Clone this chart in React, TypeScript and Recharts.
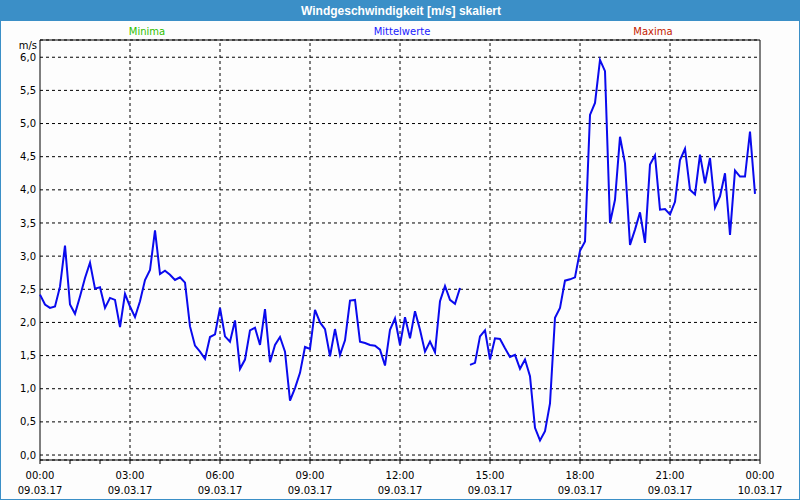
import React from "react";
import { LineChart, Line, XAxis, YAxis, CartesianGrid, ReferenceLine, ReferenceArea } from "recharts";

// 10-minute means, 09.03.17 00:00 .. 23:50 (null = no data)
const SPEED: (number | null)[] = [
  2.42, 2.27, 2.22, 2.24, 2.54, 3.16, 2.27, 2.13, 2.39, 2.67, 2.9, 2.51,
  2.53, 2.22, 2.37, 2.34, 1.93, 2.43, 2.24, 2.08, 2.32, 2.64, 2.79, 3.39,
  2.73, 2.78, 2.72, 2.64, 2.68, 2.6, 1.94, 1.65, 1.56, 1.45, 1.78, 1.82,
  2.22, 1.79, 1.71, 2.03, 1.3, 1.44, 1.88, 1.92, 1.66, 2.2, 1.4, 1.66,
  1.78, 1.56, 0.82, 1.01, 1.24, 1.63, 1.6, 2.19, 2.0, 1.9, 1.49, 1.9,
  1.51, 1.73, 2.33, 2.34, 1.71, 1.69, 1.66, 1.65, 1.59, 1.35, 1.89, 2.06,
  1.66, 2.08, 1.76, 2.17, 1.89, 1.56, 1.71, 1.55, 2.32, 2.55, 2.34, 2.28,
  2.52, null, 1.36, 1.39, 1.79, 1.88, 1.44, 1.76, 1.75, 1.61, 1.48, 1.51,
  1.3, 1.44, 1.19, 0.41, 0.22, 0.36, 0.78, 2.07, 2.22, 2.63, 2.65, 2.68,
  3.08, 3.22, 5.13, 5.31, 5.96, 5.79, 3.5, 3.85, 4.8, 4.4, 3.17, 3.4,
  3.66, 3.2, 4.38, 4.52, 3.7, 3.71, 3.63, 3.82, 4.45, 4.62, 4.0, 3.93,
  4.53, 4.1, 4.48, 3.73, 3.9, 4.25, 3.32, 4.29, 4.2, 4.2, 4.88, 3.94,
];
const STEP_MIN = 10;

const HOUR_TICKS = [0, 60, 120, 180, 240, 300, 360, 420, 480, 540, 600, 660, 720, 780, 840, 900, 960, 1020, 1080, 1140, 1200, 1260, 1320, 1380, 1440];
const LABEL_TICKS = [0, 180, 360, 540, 720, 900, 1080, 1260, 1440];
const TIME_LABELS = ["00:00", "03:00", "06:00", "09:00", "12:00", "15:00", "18:00", "21:00", "00:00"];
const DATE_LABELS = ["09.03.17", "09.03.17", "09.03.17", "09.03.17", "09.03.17", "09.03.17", "09.03.17", "09.03.17", "10.03.17"];
const GRID_X = [180, 360, 540, 720, 900, 1080, 1260];
const Y_TICKS = [0, 0.5, 1, 1.5, 2, 2.5, 3, 3.5, 4, 4.5, 5, 5.5, 6];
const Y_DOMAIN: [number, number] = [-0.075, 6.26];

const FONT = "'DejaVu Sans', Verdana, sans-serif";
const FRAME = "#3b8fc7";

const rows = SPEED.map((v, i) => ({ min: i * STEP_MIN, v }));

const XTick = ({ x, y, payload }: any) => {
  const idx = LABEL_TICKS.indexOf(payload.value);
  if (idx < 0) return null;
  return (
    <text x={x} y={y} textAnchor="middle" fontSize={10} fontFamily={FONT} fill="#000">
      <tspan x={x} dy={13}>{TIME_LABELS[idx]}</tspan>
      <tspan x={x} dy={15}>{DATE_LABELS[idx]}</tspan>
    </text>
  );
};

export default function App() {
  const legend = (text: string, color: string, cx: number) => (
    <div style={{ position: "absolute", top: 25, left: cx - 60, width: 120, textAlign: "center", color, fontSize: 10, fontFamily: FONT }}>
      {text}
    </div>
  );
  return (
    <div style={{ position: "absolute", left: 0, top: 0, width: 800, height: 500, boxSizing: "border-box", border: `1px solid ${FRAME}`, background: "#fdfdfd", overflow: "hidden" }}>
      <div style={{ position: "absolute", left: 0, top: 0, width: 800, height: 20, background: FRAME, color: "#fff", fontFamily: "'Liberation Sans', Arial, sans-serif", fontWeight: 700, fontSize: 12, lineHeight: "20px", textAlign: "center" }}>
        Windgeschwindigkeit [m/s] skaliert
      </div>
      {legend("Minima", "#2fbf00", 146)}
      {legend("Mittelwerte", "#1a1aff", 401)}
      {legend("Maxima", "#c41a00", 652)}
      <div style={{ position: "absolute", left: 0, top: 39, width: 36, textAlign: "right", fontSize: 10, fontFamily: FONT }}>m/s</div>
      <div style={{ position: "absolute", left: -1, top: -1 }}>
        <LineChart width={800} height={500} data={rows} margin={{ top: 40, right: 40, bottom: 0, left: 0 }}>
          <CartesianGrid vertical={false} stroke="#000" strokeDasharray="3 3" />
          {GRID_X.map((g) => (
            <ReferenceLine key={g} x={g} stroke="#000" strokeDasharray="3 3" />
          ))}
          <XAxis
            dataKey="min"
            type="number"
            domain={[0, 1440]}
            ticks={HOUR_TICKS}
            interval={0}
            height={40}
            axisLine={false}
            tickSize={4}
            tickLine={{ stroke: "#000" }}
            tick={<XTick />}
          />
          <YAxis
            type="number"
            domain={Y_DOMAIN}
            ticks={Y_TICKS}
            interval={0}
            allowDataOverflow
            width={40}
            axisLine={false}
            tickLine={false}
            tickSize={0}
            tickMargin={4}
            tickFormatter={(v: number) => v.toFixed(1).replace(".", ",")}
            tick={{ fontSize: 10, fontFamily: FONT, fill: "#000" }}
          />
          <ReferenceArea x1={0} x2={1440} y1={Y_DOMAIN[0]} y2={Y_DOMAIN[1]} fill="none" stroke="#000" strokeWidth={1} fillOpacity={0} />
          <Line
            type="linear"
            dataKey="v"
            stroke="#0a0aee"
            strokeWidth={2}
            dot={false}
            connectNulls={false}
            isAnimationActive={false}
          />
        </LineChart>
      </div>
    </div>
  );
}
